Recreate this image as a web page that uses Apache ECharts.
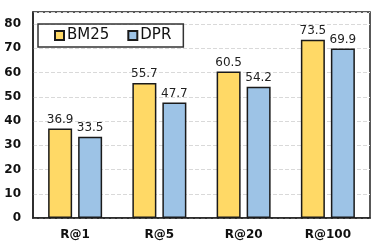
<!DOCTYPE html>
<html><head><meta charset="utf-8">
<script src="https://cdn.jsdelivr.net/npm/echarts@6/dist/echarts.min.js"></script>
<style>html,body{margin:0;padding:0;background:#fff}#c{width:374px;height:246px}</style>
</head><body><div id="c"></div>
<script>
const categories = ['R@1', 'R@5', 'R@20', 'R@100'];
const bm25 = [36.9, 55.7, 60.5, 73.5];
const dpr = [33.5, 47.7, 54.2, 69.9];
const yTicks = [0, 10, 20, 30, 40, 50, 60, 70, 80];

const chart = echarts.init(document.getElementById('c'), null, {renderer: 'canvas'});
const font = 'DejaVu Sans';
const lbl = {show: true, position: 'top', distance: 3, fontFamily: font, fontSize: 12, color: '#222'};
chart.setOption({
  animation: false,
  textStyle: {fontFamily: font},
  grid: {left: 33, right: 4, top: 12, bottom: 28, show: true, borderColor: '#222', borderWidth: 1.5, backgroundColor: 'transparent'},
  legend: {
    left: 38, top: 24,
    padding: [3, 12, 3, 16],
    borderColor: '#333', borderWidth: 1.5, borderRadius: 0,
    itemWidth: 9, itemHeight: 9, itemGap: 18,
    icon: 'rect',
    textStyle: {fontFamily: font, fontSize: 15, color: '#111', lineHeight: 17, padding: [0, 0, 0, -2]},
    data: ['BM25', 'DPR']
  },
  xAxis: {
    type: 'category', data: categories,
    axisLine: {lineStyle: {color: '#222', width: 1.5}},
    axisTick: {show: false},
    axisLabel: {fontFamily: font, fontWeight: 'bold', fontSize: 12, color: '#111', margin: 11}
  },
  yAxis: {
    type: 'value', min: 0, max: 85, interval: 10,
    axisLine: {show: true, lineStyle: {color: '#222', width: 1.5}},
    axisTick: {show: false},
    axisLabel: {fontFamily: font, fontWeight: 'bold', fontSize: 12, color: '#111', margin: 12,
      formatter: v => yTicks.includes(v) ? String(v) : ''},
    splitLine: {lineStyle: {color: '#d9d9d9', type: 'dashed', width: 1}}
  },
  series: [
    {name: 'BM25', type: 'bar', data: bm25, barWidth: 24, barGap: '25%',
     itemStyle: {color: '#FFD966', borderColor: '#1a1a1a', borderWidth: 1.5}, label: lbl},
    {name: 'DPR', type: 'bar', data: dpr, barWidth: 24,
     itemStyle: {color: '#9DC3E6', borderColor: '#1a1a1a', borderWidth: 1.5}, label: lbl}
  ]
});
</script></body></html>
